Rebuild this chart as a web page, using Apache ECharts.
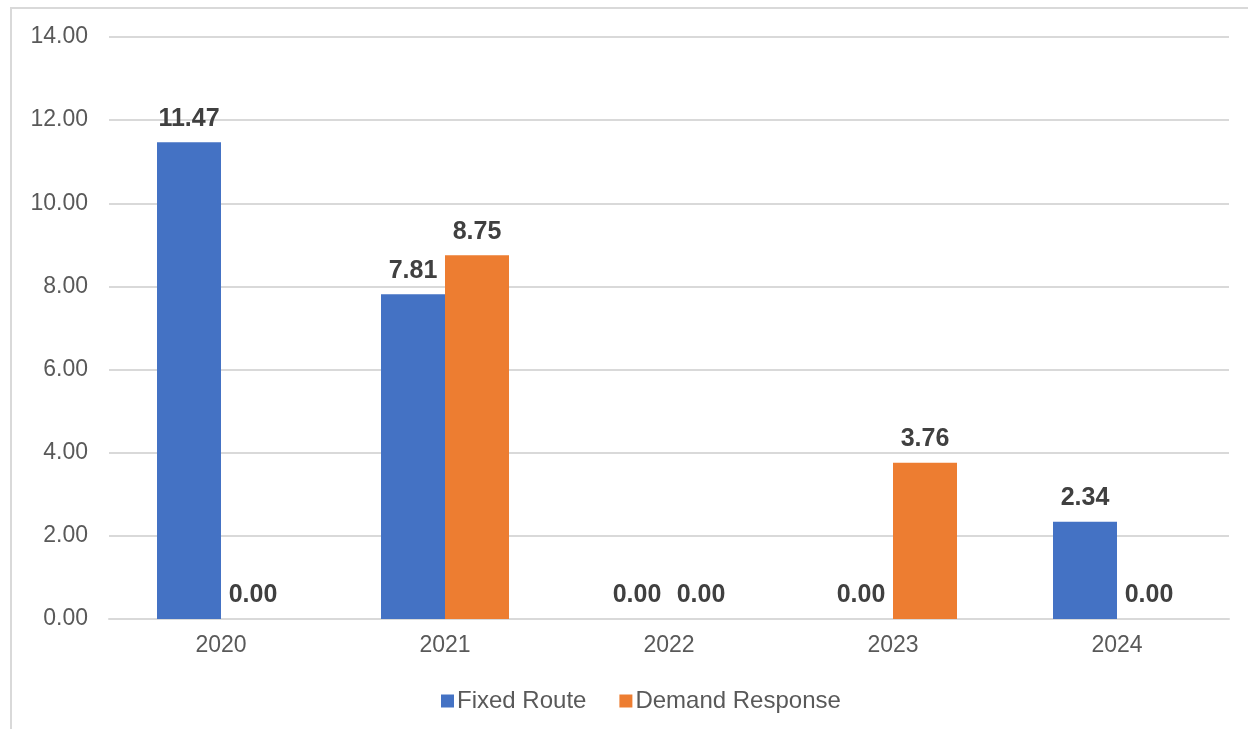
<!DOCTYPE html>
<html>
<head>
<meta charset="utf-8">
<script src="https://cdn.jsdelivr.net/npm/echarts@6/dist/echarts.min.js"></script>
<style>
  html, body { margin: 0; padding: 0; background: #fff; }
  #frame { position: absolute; left: 10px; top: 7px; width: 1250px; height: 730px; border: 2px solid #d9d9d9; box-sizing: border-box; }
  #chart { position: absolute; left: 0; top: 0; width: 1248px; height: 729px; }
</style>
</head>
<body>
<div id="frame"></div>
<div id="chart"></div>
<script>
const categories = ['2020', '2021', '2022', '2023', '2024'];
const fixedRoute = [11.47, 7.81, 0.00, 0.00, 2.34];
const demandResponse = [0.00, 8.75, 0.00, 3.76, 0.00];
const seriesNames = ['Fixed Route', 'Demand Response'];

const font = '"Liberation Sans", Arial, sans-serif';
const chart = echarts.init(document.getElementById('chart'), null, { renderer: 'canvas' });

// bold value labels sitting above each bar
const labelStyle = {
  show: true,
  position: 'top',
  distance: 11,
  fontFamily: font,
  fontSize: 25,
  fontWeight: 'bold',
  color: '#404040',
  formatter: p => p.value.toFixed(2)
};

chart.setOption({
  animation: false,
  textStyle: { fontFamily: font },
  grid: { left: 109, right: 19, top: 37, bottom: 110, containLabel: false },
  legend: {
    data: seriesNames,
    top: 684,
    left: 436,
    icon: 'rect',
    itemWidth: 13,
    itemHeight: 13,
    itemGap: 33,
    textStyle: { fontFamily: font, fontSize: 24, color: '#595959', padding: [0, 0, 0, -2] }
  },
  xAxis: {
    type: 'category',
    data: categories,
    axisLine: { show: true, lineStyle: { color: '#d9d9d9', width: 2 } },
    axisTick: { show: false },
    axisLabel: { fontFamily: font, fontSize: 23, color: '#595959', margin: 15 }
  },
  yAxis: {
    type: 'value',
    min: 0,
    max: 14,
    interval: 2,
    axisLine: { show: false },
    axisTick: { show: false },
    axisLabel: { fontFamily: font, fontSize: 23, color: '#595959', margin: 21, formatter: v => v.toFixed(2) },
    splitLine: { lineStyle: { color: '#d9d9d9', width: 2 } }
  },
  series: [
    {
      name: seriesNames[0],
      type: 'bar',
      data: fixedRoute,
      barWidth: 64,
      barGap: '0%',
      itemStyle: { color: '#4472C4' },
      label: labelStyle
    },
    {
      name: seriesNames[1],
      type: 'bar',
      data: demandResponse,
      barWidth: 64,
      barGap: '0%',
      itemStyle: { color: '#ED7D31' },
      label: labelStyle
    }
  ]
});
</script>
</body>
</html>
